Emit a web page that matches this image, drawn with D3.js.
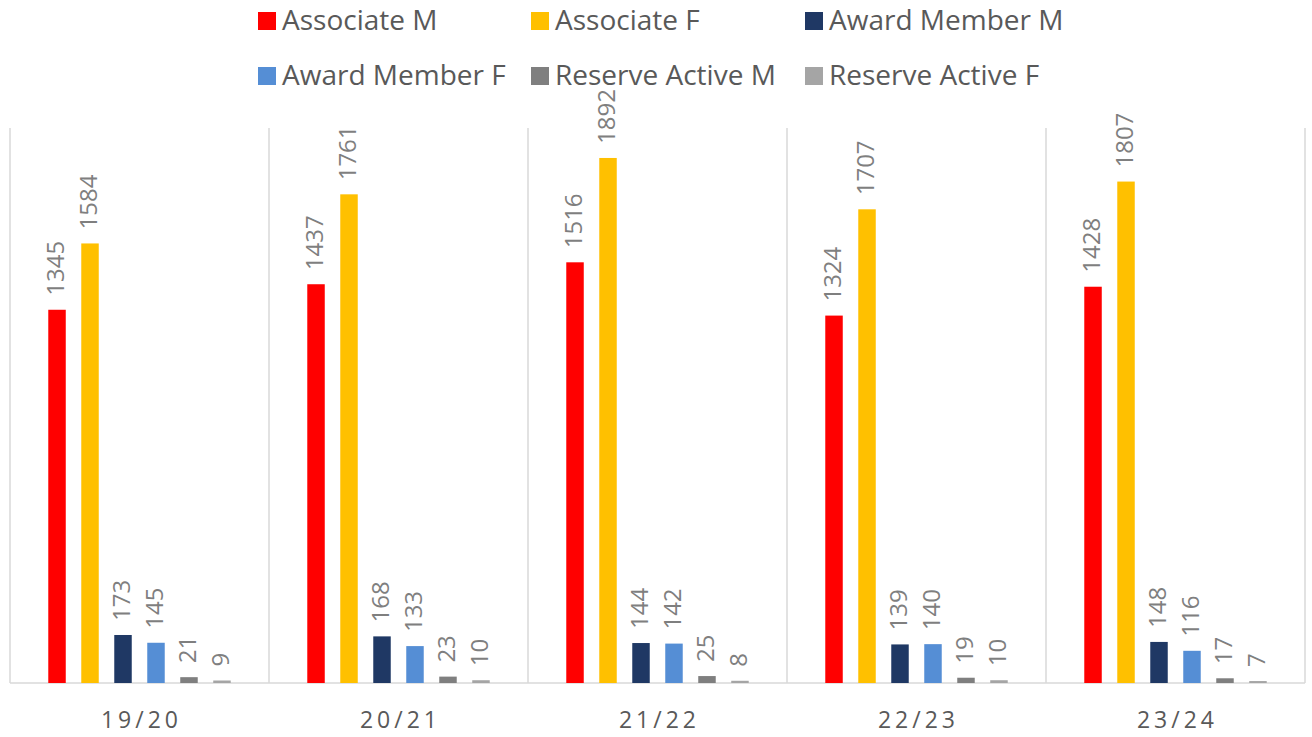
<!DOCTYPE html>
<html lang="en">
<head>
  <meta charset="UTF-8">
  <title>Members by year</title>
  <script src="https://d3js.org/d3.v7.min.js"></script>
  <style>
    body { margin: 0; background: #fff; }
    text { font-family: "Open Sans", sans-serif; }
    .legend text { font-size: 28px; fill: #595959; }
    .value { font-size: 24px; fill: #7f7f7f; }
    .year { font-size: 23px; fill: #595959; letter-spacing: 4px; }
  </style>
</head>
<body>
  <div id="chart"></div>
  <script>
    // Data
    const years = ["19/20", "20/21", "21/22", "22/23", "23/24"];
    const series = ["Associate M", "Associate F", "Award Member M", "Award Member F", "Reserve Active M", "Reserve Active F"];
    const colors = ["#ff0000", "#ffc000", "#1f3864", "#558ed5", "#7f7f7f", "#a5a5a5"];
    const associateM = [1345, 1437, 1516, 1324, 1428];
    const associateF = [1584, 1761, 1892, 1707, 1807];
    const awardM = [173, 168, 144, 139, 148];
    const awardF = [145, 133, 142, 140, 116];
    const reserveM = [21, 23, 25, 19, 17];
    const reserveF = [9, 10, 8, 10, 7];

    const values = [associateM, associateF, awardM, awardF, reserveM, reserveF];

    const width = 1312, height = 737;
    const plot = { left: 10, right: 1305, top: 128, bottom: 683 };

    const svg = d3.select("#chart")
      .append("svg")
      .attr("width", width)
      .attr("height", height);

    const x0 = d3.scaleBand()
      .domain(years)
      .range([plot.left, plot.right])
      .padding(0);

    const x1 = d3.scaleBand()
      .domain(series)
      .range([0, x0.bandwidth()])
      .paddingInner(0.47)
      .paddingOuter(1.16);

    const y = d3.scaleLinear()
      .domain([0, 2000])
      .range([plot.bottom, plot.top]);

    const color = d3.scaleOrdinal().domain(series).range(colors);

    // group separators
    const edges = years.map(d => x0(d)).concat([plot.right]);
    svg.append("g")
      .selectAll("line")
      .data(edges)
      .join("line")
      .attr("x1", d => d).attr("x2", d => d)
      .attr("y1", plot.top).attr("y2", plot.bottom)
      .attr("stroke", "#d9d9d9")
      .attr("stroke-width", 1.5);

    // baseline
    svg.append("line")
      .attr("x1", plot.left).attr("x2", plot.right)
      .attr("y1", y(0)).attr("y2", y(0))
      .attr("stroke", "#d9d9d9")
      .attr("stroke-width", 1.5);

    const rows = years.map((yr, i) => ({
      year: yr,
      items: series.map((s, j) => ({ key: s, value: values[j][i] }))
    }));

    const groups = svg.append("g")
      .selectAll("g")
      .data(rows)
      .join("g")
      .attr("transform", d => `translate(${x0(d.year)},0)`);

    groups.selectAll("rect")
      .data(d => d.items)
      .join("rect")
      .attr("x", d => x1(d.key))
      .attr("y", d => y(d.value))
      .attr("width", x1.bandwidth())
      .attr("height", d => y(0) - y(d.value))
      .attr("fill", d => color(d.key));

    groups.selectAll("text.value")
      .data(d => d.items)
      .join("text")
      .attr("class", "value")
      .attr("transform", d => `translate(${x1(d.key) + x1.bandwidth() / 2 + 1},${y(d.value) - 14}) rotate(-90)`)
      .attr("dominant-baseline", "middle")
      .text(d => d.value);

    // x axis labels
    svg.append("g")
      .selectAll("text")
      .data(years)
      .join("text")
      .attr("class", "year")
      .attr("x", d => x0(d) + x0.bandwidth() / 2 + 2)
      .attr("y", 728)
      .attr("text-anchor", "middle")
      .text(d => d);

    // legend
    const legendCols = [258, 531, 805];
    const legendRows = [21, 76];
    const legend = svg.append("g").attr("class", "legend");
    const item = legend.selectAll("g")
      .data(series)
      .join("g")
      .attr("transform", (d, i) => `translate(${legendCols[i % 3]},${legendRows[Math.floor(i / 3)]})`);

    item.append("rect")
      .attr("x", 0)
      .attr("y", -9)
      .attr("width", 18)
      .attr("height", 18)
      .attr("fill", d => color(d));

    item.append("text")
      .attr("x", 24)
      .attr("y", 9)
      .text(d => d);
  </script>
</body>
</html>
